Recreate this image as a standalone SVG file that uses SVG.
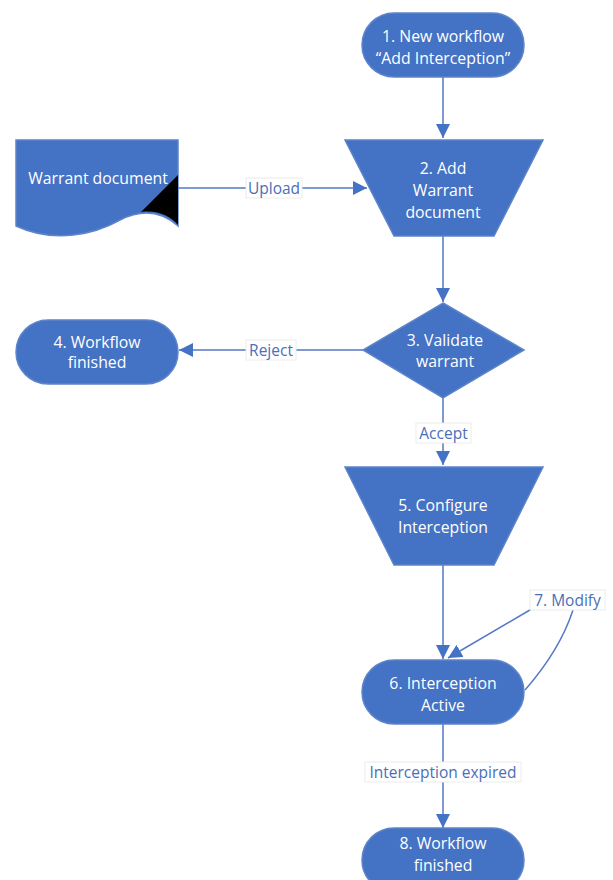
<svg xmlns="http://www.w3.org/2000/svg" width="613" height="880" viewBox="0 0 613 880">
<style>
.n{fill:#4472C4;stroke:#5E84C9;stroke-width:1.5}
.t{font-family:"Open Sans","DejaVu Sans",sans-serif;font-size:15.8px;fill:#fff;text-anchor:middle}
.c{fill:none;stroke:#5479C4;stroke-width:1.5}
.lb{fill:#fff;stroke:#ececec;stroke-width:1}
.lt{font-family:"Open Sans","DejaVu Sans",sans-serif;font-size:15.5px;fill:#4A6FB8;text-anchor:middle}
</style>
<defs>
<marker id="ah2" viewBox="0 0 14 14" refX="14" refY="7" markerWidth="14" markerHeight="14" markerUnits="userSpaceOnUse" orient="auto">
<path d="M0,0 L14,7 L0,14 Z" fill="#4472C4"/>
</marker>
</defs>
<rect width="613" height="880" fill="#fff"/>
<g id="connectors">
<path class="c" d="M443,77 V138" marker-end="url(#ah2)"/>
<path class="c" d="M178,188 H367" marker-end="url(#ah2)"/>
<path class="c" d="M443,236 V302" marker-end="url(#ah2)"/>
<path class="c" d="M363,350 H179" marker-end="url(#ah2)"/>
<path class="c" d="M443,398 V465" marker-end="url(#ah2)"/>
<path class="c" d="M443,565 V659" marker-end="url(#ah2)"/>
<path class="c" d="M525,690 Q560,650 573,610"/>
<path class="c" d="M535,607 L448,658" marker-end="url(#ah2)"/>
<path class="c" d="M443,724 V828" marker-end="url(#ah2)"/>
<g id="label-upload"><rect class="lb" x="246" y="178" width="56" height="20"/><text class="lt" x="274" y="193.5">Upload</text></g>
<g id="label-reject"><rect class="lb" x="246" y="340" width="50" height="20"/><text class="lt" x="271" y="355.5">Reject</text></g>
<g id="label-accept"><rect class="lb" x="416" y="423" width="55" height="20"/><text class="lt" x="443.5" y="438.5">Accept</text></g>
<g id="label-modify"><rect class="lb" x="530" y="590" width="75" height="20"/><text class="lt" x="567.5" y="605.5">7. Modify</text></g>
<g id="label-expired"><rect class="lb" x="365" y="762" width="156" height="20"/><text class="lt" x="443" y="777.5">Interception expired</text></g>
</g>
<g id="node1"><rect class="n" x="362" y="13" width="162" height="64" rx="32"/><text class="t" x="443" y="41.5">1. New workflow</text><text class="t" x="443" y="63.5">“Add Interception”</text></g>
<g id="node2"><path class="n" d="M345,140 H543 L494,236 H394 Z"/><text class="t" x="443" y="173.5">2. Add</text><text class="t" x="443" y="195.5">Warrant</text><text class="t" x="443" y="217.5">document</text></g>
<g id="warrant"><path class="n" d="M16,140 H178 V226 C160,210 140,210 120,220 C95,234 55,244 16,226 Z"/><path d="M178,175 L141,212 C158,210 170,216 178,225 Z" fill="#000"/><text class="t" x="98" y="183.5">Warrant document</text></g>
<g id="node3"><path class="n" d="M443,303 L524,350 L443,398 L363,350 Z"/><text class="t" x="445" y="345.5">3. Validate</text><text class="t" x="445" y="366.5">warrant</text></g>
<g id="node4"><rect class="n" x="16" y="320" width="162" height="64" rx="32"/><text class="t" x="97" y="347.5">4. Workflow</text><text class="t" x="97" y="367.5">finished</text></g>
<g id="node5"><path class="n" d="M345,467 H543 L494,565 H394 Z"/><text class="t" x="443" y="510.5">5. Configure</text><text class="t" x="443" y="532.5">Interception</text></g>
<g id="node6"><rect class="n" x="362" y="660" width="162" height="64" rx="32"/><text class="t" x="443" y="688.5">6. Interception</text><text class="t" x="443" y="710.5">Active</text></g>
<g id="node8"><rect class="n" x="362" y="828" width="162" height="64" rx="32"/><text class="t" x="443" y="848.5">8. Workflow</text><text class="t" x="443" y="870.5">finished</text></g>
</svg>
